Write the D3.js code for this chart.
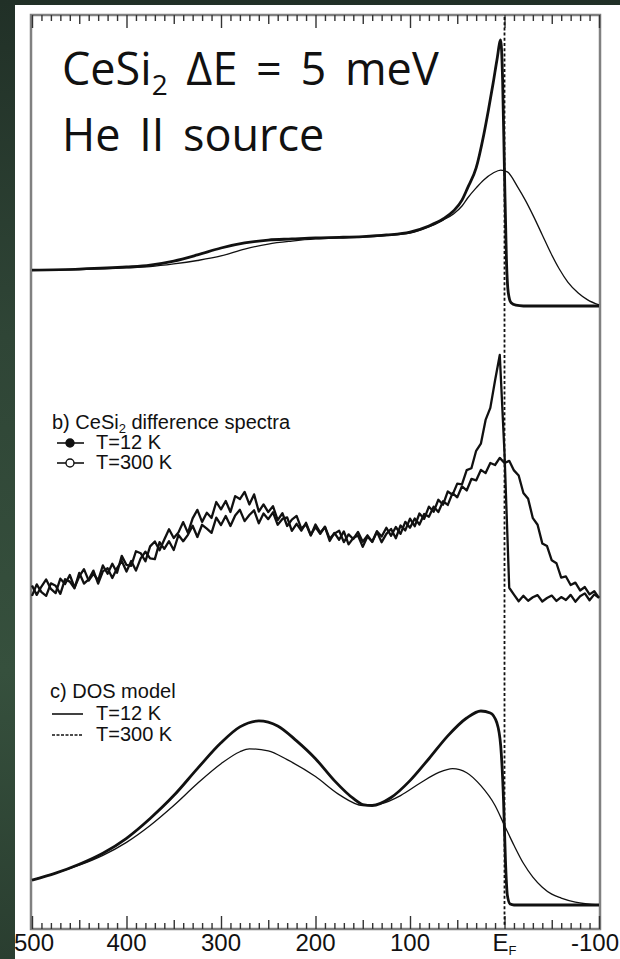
<!DOCTYPE html>
<html><head><meta charset="utf-8">
<script src="https://cdn.jsdelivr.net/npm/d3@7"></script>
<style>html,body{margin:0;padding:0;background:#2b3e31;overflow:hidden} svg{display:block} text{white-space:pre}</style>
</head><body>
<svg id="c" width="620" height="959"></svg>
<script>
// ---------- DATA ----------
// x axis: binding energy (meV), E_F = 0
const tickValues = [500, 400, 300, 200, 100, 0, -100];
const tickLabels = ["500", "400", "300", "200", "100", "EF", "-100"];

// a) spectra, He II, intensities (a.u.)
const aEnergy12 = [500,450,400,375,350,325,300,275,250,225,200,175,150,125,100,80,65,54,45,39,30,22,17,12,8,4,2,0,-2,-4,-7,-12,-20,-100];
const aThick12  = [13.5,13.9,14.7,15.4,16.9,19.2,21.8,23.7,24.8,25.2,25.6,25.8,26.1,26.7,27.8,30.1,32.7,35.7,39.8,44.4,51.9,64.3,73.7,83.8,92.5,100,85,50,18,5,1.2,0.3,0,0];
const aEnergy300 = [500,450,400,375,350,325,300,275,250,225,200,175,150,125,100,80,65,54,45,39,30,22,12,4,-3,-14,-22,-31,-40,-49,-58,-67,-78,-88,-100];
const aThin300   = [13.5,13.7,14.3,14.8,15.8,17.1,18.8,21.4,23.3,24.4,25.2,25.6,25.9,26.5,27.4,29.7,32.3,34.6,37.6,40.6,44.4,47.4,50.0,51.1,50.4,44.7,39.8,33.5,26.7,19.9,13.9,9.0,4.9,2.3,0.4];

// b) difference spectra, sampled every 5 meV from 500 to -100 (a.u.)
const bEnergy = d3.range(500, -101, -5);
const bT12 = [5.9,2.1,5.5,8.4,4.5,2.8,8.7,6.5,10.2,5.1,9.6,12.6,7.9,10.7,8.0,14.1,10.7,14.8,11.1,18.0,
  14.3,13.9,19.9,19.1,15.8,21.9,23.9,20.3,24.7,28.9,25.3,27.6,31.8,27.4,33.3,36.8,31.9,35.6,33.5,40.0,
  37.0,40.4,35.9,42.4,41.2,44.1,39.0,43.1,36.1,39.0,35.9,38.3,32.6,35.4,30.2,32.8,34.3,29.1,30.9,26.3,
  30.8,27.5,29.8,24.1,27.4,24.6,28.0,22.7,25.3,26.3,21.7,25.9,23.8,27.8,23.6,27.0,29.0,25.2,30.4,28.4,
  33.2,30.1,35.3,33.1,38.1,36.0,40.9,38.9,44.3,42.9,47.5,47.2,53.0,53.8,60.9,63.8,73.5,78.4,89.6,100.0,
  60.0,5.0,2.2,-0.5,1.7,-0.3,1.1,2.0,-0.6,0.8,1.8,-0.4,1.2,0.0,2.1,-0.7,1.5,2.7,-0.1,2.3,0.9];
const bT300 = [1.7,6.4,3.2,1.7,6.8,5.8,2.5,8.5,7.5,4.8,11.1,6.7,8.4,12.0,6.7,11.7,13.0,9.0,13.0,15.9,
  11.6,15.9,12.0,17.0,19.7,17.0,16.7,23.6,20.9,24.0,20.4,26.5,24.0,26.6,30.3,25.7,30.7,29.1,27.4,33.6,
  30.6,34.3,30.2,34.5,36.8,32.2,34.7,36.6,31.3,35.3,33.0,35.8,30.7,33.1,33.7,28.2,31.1,28.3,31.5,26.6,
  29.8,27.0,29.9,25.0,27.1,28.3,23.6,26.8,24.9,27.8,23.8,26.4,23.7,28.1,25.9,29.5,26.2,29.8,27.0,31.9,
  29.5,33.3,30.8,35.1,34.0,38.1,35.9,40.3,38.8,43.6,41.9,46.4,44.7,49.4,48.8,53.1,51.8,55.9,55.1,58.0,
  55.9,56.8,52.9,50.8,43.7,41.3,33.4,30.7,23.1,22.0,16.2,15.0,9.1,9.6,6.1,7.1,3.9,5.3,2.3,3.6,0.9];

// c) DOS model (a.u.)
const cEnergy12 = [500,475,450,425,400,375,350,325,300,280,260,240,220,200,180,160,150,140,120,100,80,60,40,25,15,8,4,1,-1,-3,-6,-10,-100];
const cDos12    = [12.8,16.4,21.0,26.7,34.4,44.6,56.4,70.3,83.6,91.8,94.9,92.3,84.6,75.4,64.1,54.9,51.8,51.3,55.4,64.1,75.4,87.2,96.4,100,99,93.8,82,53.8,23,5.1,0.5,0,0];
const cEnergy300 = [500,475,450,425,400,375,350,325,300,280,270,250,230,200,175,150,130,110,90,70,55,40,25,10,0,-10,-20,-30,-40,-50,-60,-75,-100];
const cDos300    = [12.8,16.4,20.5,25.6,32.3,41.0,51.3,62.6,72.8,79.0,80.5,79.5,74.9,66.2,56.9,51.3,52.3,56.4,62.6,68.2,70.3,68.2,61.5,51.3,41.0,30.8,21.5,14.4,9.2,5.6,3.6,1.5,0];

// texts
const titleLines = ["CeSi|2| ΔE = 5 meV", "He II source"];
const legendB = ["T=12 K", "T=300 K"];
const legendC = ["T=12 K", "T=300 K"];

// ---------- DRAWING ----------
const svg = d3.select("#c");
const W = 620, H = 959;
const frame = {l: 31, r: 600, t: 15, b: 929};

const defs = svg.append("defs");
const g = defs.append("linearGradient").attr("id","bg").attr("x1",0).attr("y1",0).attr("x2",0).attr("y2",1);
g.append("stop").attr("offset","0%").attr("stop-color","#213027");
g.append("stop").attr("offset","35%").attr("stop-color","#2f4536");
g.append("stop").attr("offset","70%").attr("stop-color","#36503d");
g.append("stop").attr("offset","100%").attr("stop-color","#2a3e30");
svg.append("rect").attr("width",W).attr("height",H).attr("fill","url(#bg)");
svg.append("rect").attr("x",15).attr("y",5).attr("width",W-15).attr("height",H-5).attr("fill","#fff");

const x = d3.scaleLinear().domain([500,-100]).range([frame.l+1, frame.r-1]);
const yA = d3.scaleLinear().domain([0,100]).range([306, 40]);
const yB = d3.scaleLinear().domain([0,100]).range([600, 355]);
const yC = d3.scaleLinear().domain([0,100]).range([905, 711]);

// frame
svg.append("rect").attr("x",frame.l).attr("y",frame.t).attr("width",frame.r-frame.l).attr("height",frame.b-frame.t)
  .attr("fill","none").attr("stroke","#808080").attr("stroke-width",2.5);

// ticks: minor 10, medium 50, major 100
const minor = d3.range(-100, 501, 10).filter(v => v % 50 !== 0);
const medium = d3.range(-50, 501, 100);
function tickAxis(vals, len, top){
  const ax = (top ? d3.axisBottom(x) : d3.axisTop(x)).tickValues(vals).tickSize(len).tickFormat("");
  const gg = svg.append("g").attr("transform", `translate(0,${top ? frame.t : frame.b})`).call(ax);
  gg.select(".domain").remove();
  gg.selectAll("line").attr("stroke","#333").attr("stroke-width",1.4);
}
[true,false].forEach(top => {
  tickAxis(minor, 6, top);
  tickAxis(medium, 9, top);
  tickAxis(tickValues, 13, top);
});

// tick labels
const lab = svg.append("g").attr("font-family","'Liberation Sans', Arial, sans-serif").attr("font-size",24).attr("fill","#111");
tickValues.forEach((v,i) => {
  const t = lab.append("text").attr("y",951).attr("text-anchor","middle");
  let xx = x(v);
  if (i === 0) xx = 34;
  if (i === tickValues.length-1) { t.attr("text-anchor","end"); xx = 619; }
  t.attr("x", xx);
  if (tickLabels[i] === "EF") {
    t.append("tspan").text("E");
    t.append("tspan").text("F").attr("font-size",13).attr("dy",4);
  } else t.text(tickLabels[i]);
});

// dashed E_F line
svg.append("line").attr("x1",x(0)).attr("x2",x(0)).attr("y1",frame.t+2).attr("y2",frame.b-2)
  .attr("stroke","#111").attr("stroke-width",1.8).attr("stroke-dasharray","3,2.2");

// curves
function drawLine(E, V, ys, w, curve){
  const line = d3.line().x(d => x(d[0])).y(d => ys(d[1])).curve(curve || d3.curveMonotoneX);
  svg.append("path").datum(E.map((e,i)=>[e,V[i]])).attr("d",line)
    .attr("fill","none").attr("stroke","#111").attr("stroke-width",w).attr("stroke-linejoin","round");
}
drawLine(aEnergy300, aThin300, yA, 1.3);
drawLine(aEnergy12, aThick12, yA, 2.8);
drawLine(bEnergy, bT300, yB, 2.3, d3.curveLinear);
drawLine(bEnergy, bT12, yB, 2.3, d3.curveLinear);
drawLine(cEnergy300, cDos300, yC, 1.3);
drawLine(cEnergy12, cDos12, yC, 2.8);

// title
const title = svg.append("g").attr("font-family","'Open Sans', 'Noto Sans', sans-serif").attr("fill","#111").attr("font-size",45);
const t1 = title.append("text").attr("x",62).attr("y",85).style("word-spacing","7px");
titleLines[0].split("|").forEach((s,i) => {
  const ts = t1.append("tspan").text(s);
  if (i === 1) ts.attr("font-size",28).attr("dy",10);
  if (i === 2) ts.attr("dy",-10);
});
title.append("text").attr("x",62).attr("y",151).style("word-spacing","7px").text(titleLines[1]);

// panel labels
const small = svg.append("g").attr("font-family","'Liberation Sans', Arial, sans-serif").attr("font-size",20).attr("fill","#111");
const bl = small.append("text").attr("x",52).attr("y",429);
bl.append("tspan").text("b) CeSi");
bl.append("tspan").text("2").attr("font-size",13).attr("dy",4);
bl.append("tspan").text(" difference spectra").attr("dy",-4);
legendB.forEach((s,i) => {
  const yy = 443 + i*20;
  small.append("line").attr("x1",57).attr("x2",84).attr("y1",yy).attr("y2",yy).attr("stroke","#111").attr("stroke-width",1.6);
  small.append("circle").attr("cx",70).attr("cy",yy).attr("r",4).attr("fill", i===0 ? "#111" : "#fff").attr("stroke","#111").attr("stroke-width",1.4);
  small.append("text").attr("x",96).attr("y",yy+6).text(s);
});
small.append("text").attr("x",50).attr("y",698).text("c) DOS model");
legendC.forEach((s,i) => {
  const yy = 714 + i*21;
  small.append("line").attr("x1",52).attr("x2",83).attr("y1",yy).attr("y2",yy).attr("stroke","#111")
    .attr("stroke-width",1.6).attr("stroke-dasharray", i===0 ? null : "3,1.5");
  small.append("text").attr("x",96).attr("y",yy+6).text(s);
});
</script>
</body></html>
